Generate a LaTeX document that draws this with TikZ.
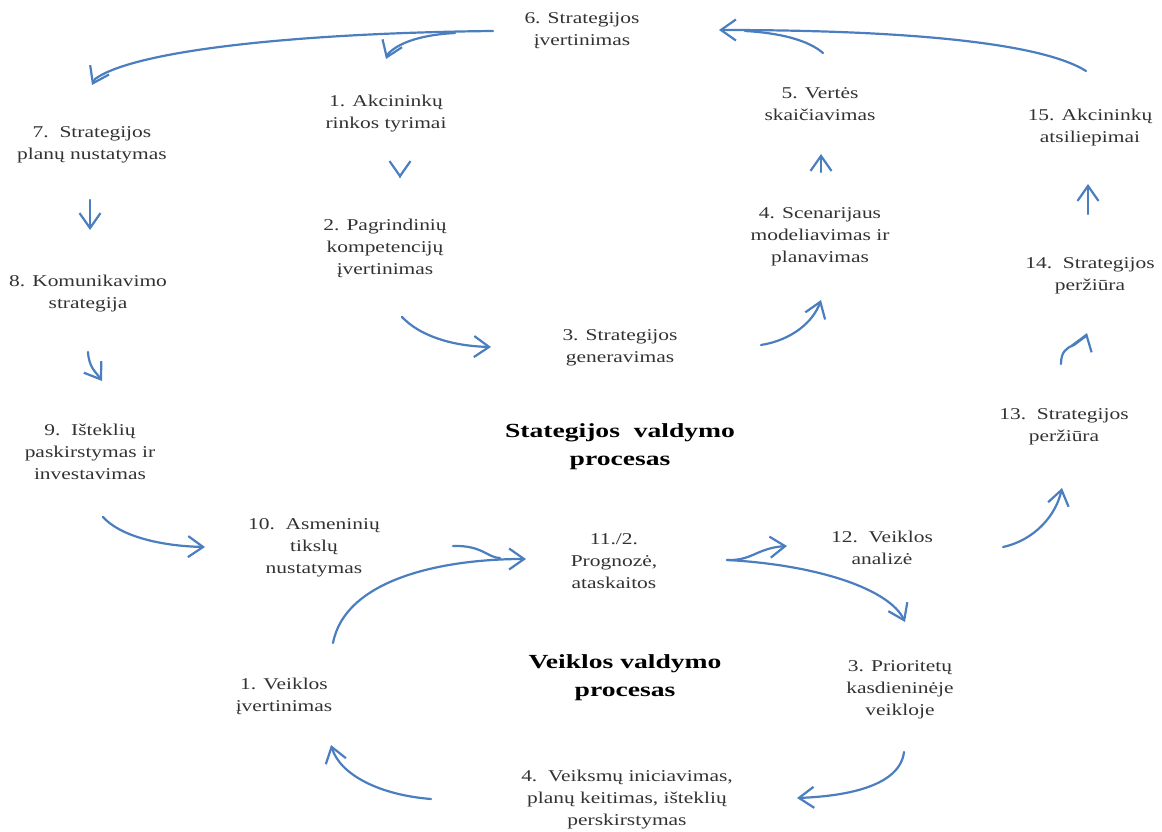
\documentclass[tikz,border=0pt]{standalone}
\usepackage{fontspec}
\setmainfont[FakeStretch=1.3]{Liberation Serif}
\newfontfamily\titlefont[FakeStretch=1.38]{Liberation Serif}
\usetikzlibrary{arrows.meta}
\definecolor{flow}{RGB}{74,126,190}
\definecolor{ink}{RGB}{50,50,50}
\tikzset{
  lbl/.style={align=center,text=ink,inner sep=1pt,
    font=\fontsize{16.5}{22}\selectfont},
  ttl/.style={align=center,text=black,inner sep=1pt,
    font=\titlefont\bfseries\fontsize{20}{28}\selectfont},
  arr/.style={draw=flow,line width=2.2pt,line cap=round,line join=round,
    -{Straight Barb[length=15pt,width=21pt,line width=2.2pt]}},
  link/.style={draw=flow,line width=2.2pt,line cap=round}
}
\begin{document}
\begin{tikzpicture}[x=1pt,y=-1pt]
\useasboundingbox (0,0) rectangle (1162,832);

% strategy management cycle
\node[lbl] (s6)  at (582,31)  {6. Strategijos\\įvertinimas};
\node[lbl] (s1)  at (386,114) {1. Akcininkų\\rinkos tyrimai};
\node[lbl] (s7)  at (92,145)  {7.~~Strategijos\\planų nustatymas};
\node[lbl] (s2)  at (385,248) {2. Pagrindinių\\kompetencijų\\įvertinimas};
\node[lbl] (s8)  at (88,294)  {8. Komunikavimo\\strategija};
\node[lbl] (s3)  at (620,348) {3. Strategijos\\generavimas};
\node[lbl] (s4)  at (820,237) {4. Scenarijaus\\modeliavimas ir\\planavimas};
\node[lbl] (s5)  at (820,104) {5. Vertės\\skaičiavimas};
\node[lbl] (s15) at (1090,128) {15. Akcininkų\\atsiliepimai};
\node[lbl] (s14) at (1090,276) {14.~~Strategijos\\peržiūra};
\node[lbl] (s13) at (1064,427) {13.~~Strategijos\\peržiūra};
\node[lbl] (s9)  at (90,452)  {9.~~Išteklių\\paskirstymas ir\\investavimas};
\node[ttl] (st)  at (620,447) {Stategijos~~valdymo\\procesas};

% operations management cycle
\node[lbl] (s10) at (314,548) {10.~~Asmeninių\\tikslų\\nustatymas};
\node[lbl] (s11) at (614,561) {11./2.\\Prognozė,\\ataskaitos};
\node[lbl] (s12) at (882,548) {12.~~Veiklos\\analizė};
\node[ttl] (vt)  at (625,678) {Veiklos valdymo\\procesas};
\node[lbl] (v3)  at (900,690) {3. Prioritetų\\kasdieninėje\\veikloje};
\node[lbl] (v1)  at (284,696) {1. Veiklos\\įvertinimas};
\node[lbl] (v4)  at (627,800) {4.~~Veiksmų iniciavimas,\\planų keitimas, išteklių\\perskirstymas};

% connector end points
\coordinate (p6w)  at (493,31);
\coordinate (p6b)  at (455,33);
\coordinate (p7t)  at (92,85);
\coordinate (p1t)  at (386,59);
\coordinate (p1b)  at (400,177);
\coordinate (p2t)  at (400,178);
\coordinate (p7b)  at (90,200);
\coordinate (p8t)  at (90,230);
\coordinate (p8b)  at (88,352);
\coordinate (p9t)  at (102,381);
\coordinate (p9b)  at (103,517);
\coordinate (p10w) at (205,547);
\coordinate (p2b)  at (402,317);
\coordinate (p3w)  at (491,347);
\coordinate (p3e)  at (761,345);
\coordinate (p4b)  at (821,300);
\coordinate (p4t)  at (821,172);
\coordinate (p5b)  at (821,154);
\coordinate (p5t)  at (823,53);
\coordinate (p6e)  at (719,30);
\coordinate (p15t) at (1086,71);
\coordinate (p14t) at (1088,214);
\coordinate (p15b) at (1088,184);
\coordinate (p13t) at (1061,364);
\coordinate (p14b) at (1087,333);
\coordinate (p12e) at (1003,547);
\coordinate (p13b) at (1062,488);
\coordinate (p10e) at (453,546);
\coordinate (p11w) at (526,559);
\coordinate (p11e) at (727,560);
\coordinate (p12w) at (787,546);
\coordinate (pv3t) at (905,622);
\coordinate (pv3b) at (904,752);
\coordinate (pv4e) at (797,798);
\coordinate (pv4w) at (431,799);
\coordinate (pv1b) at (331,745);
\coordinate (pv1t) at (333,643);

% strategy cycle connectors
\draw[arr] (p6w) .. controls (300,33) and (135,50) .. (95,79) -- (p7t);
\draw[arr] (p6b) .. controls (418,35) and (397,44) .. (388,54) -- (p1t);
\draw[arr] (p1b) -- (p2t);
\draw[arr] (p7b) -- (p8t);
\draw[arr] (p8b) .. controls (89,368) and (96,372) .. (p9t);
\draw[arr] (p9b) .. controls (120,536) and (160,546) .. (p10w);
\draw[arr] (p2b) .. controls (420,336) and (452,346) .. (p3w);
\draw[arr] (p3e) .. controls (792,340) and (813,322) .. (p4b);
\draw[arr] (p4t) -- (p5b);
\draw[link] (p5t) .. controls (808,40) and (780,33) .. (745,31);
\draw[arr] (p15t) .. controls (1040,42) and (900,30) .. (p6e);
\draw[arr] (p14t) -- (p15b);
\draw[arr] (p13t) .. controls (1061,352) and (1066,348) .. (1074,345) -- (1086,336) -- (p14b);
\draw[arr] (p12e) .. controls (1035,540) and (1056,515) .. (p13b);

% operations cycle connectors
\draw[link] (p10e) .. controls (482,545) and (488,558) .. (500,558);
\draw[arr] (pv1t) .. controls (345,580) and (440,559) .. (p11w);
\draw[arr] (p11e) .. controls (752,561) and (757,548) .. (p12w);
\draw[arr] (p11e) .. controls (820,565) and (890,590) .. (pv3t);
\draw[arr] (pv3b) .. controls (900,785) and (850,796) .. (pv4e);
\draw[arr] (pv4w) .. controls (380,795) and (340,775) .. (pv1b);
\end{tikzpicture}
\end{document}
